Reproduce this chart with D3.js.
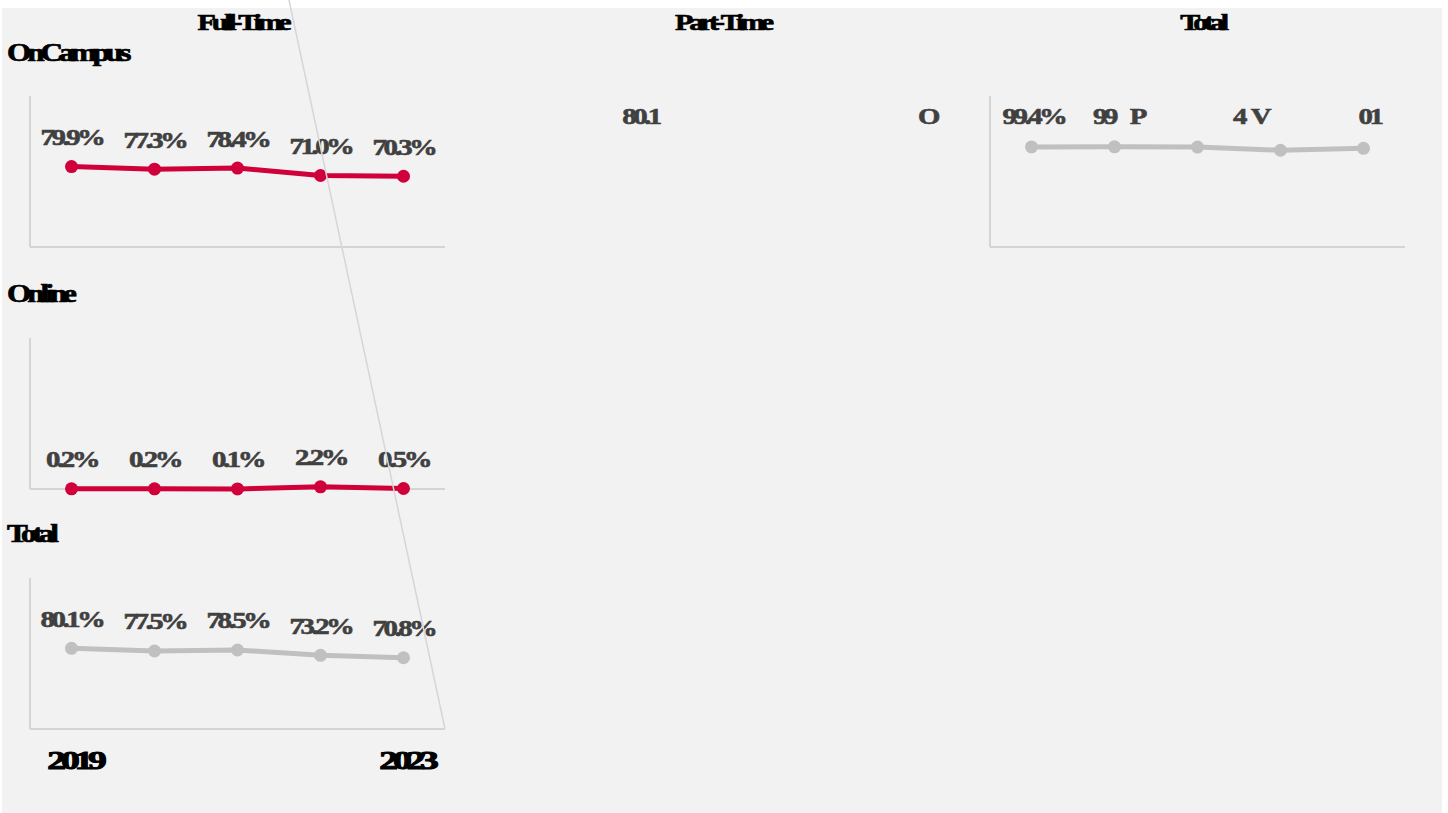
<!DOCTYPE html>
<html><head><meta charset="utf-8">
<script src="https://cdn.jsdelivr.net/npm/d3@7"></script>
<style>
html,body{margin:0;padding:0;background:#fff;}
svg{display:block;}
text{white-space:pre;}
</style></head>
<body>
<svg id="chart" width="1448" height="813"></svg>
<script>
const years = [2019, 2020, 2021, 2022, 2023];
const columnTitles = ["Full-Time", "Part-Time", "Total"];
const rowTitles = ["OnCampus", "Online", "Total"];
const onCampusFullTime = [0.799, 0.773, 0.784, 0.710, 0.703];
const onlineFullTime = [0.002, 0.002, 0.001, 0.022, 0.005];
const totalFullTime = [0.801, 0.775, 0.785, 0.732, 0.708];
const onCampusTotal = [0.994, 0.995, 0.993, 0.961, 0.980];
const onCampusTotalLabels = ["99.4%", "99    P", "", "4  V", "01"];
const onCampusTotalLabelShift = [2, 4, 0, -30, 6];
const partTimeLabels = ["80.1", "O"];
const partTimeLabelIndex = [1, 4];
const partTimeLabelShift = [6, 44];
const yearTicks = [2019, 2023];

const RED = "#d0003a", GREY = "#c0c0c0", AX = "#d4d4d4", LBL = "#404040";
const svg = d3.select("#chart");
svg.append("rect").attr("x", 2).attr("y", 8).attr("width", 1440).attr("height", 805).attr("fill", "#f2f2f2");

const colX = [30, 510, 990], colW = 415;
const rowY = [96, 338, 578], rowH = 151;
const fmt = d3.format(".1%");

function txt(g, x, y, s, opt) {
  const o = Object.assign({size: 24, sx: 1.2, fill: LBL, anchor: "middle", ls: -0.12, sw: 0.6}, opt || {});
  g.append("text")
    .attr("transform", `translate(${x},${y + 2}) scale(${o.sx},1)`)
    .attr("text-anchor", o.anchor)
    .attr("dominant-baseline", "middle")
    .style("font-family", "'Liberation Serif', serif")
    .style("font-weight", "bold")
    .style("font-size", o.size + "px")
    .style("letter-spacing", (o.ls * o.size) + "px")
    .attr("fill", o.fill)
    .attr("stroke", o.fill).attr("stroke-width", o.sw)
    .text(s);
}

function panel(ci, ri, values, color, labels, shifts) {
  const x = d3.scalePoint().domain(years).range([colX[ci], colX[ci] + colW]).padding(0.5);
  const y = d3.scaleLinear().domain([0, 1.5]).range([rowY[ri] + rowH, rowY[ri]]);
  const g = svg.append("g");
  g.append("line").attr("x1", colX[ci]).attr("x2", colX[ci]).attr("y1", rowY[ri]).attr("y2", rowY[ri] + rowH)
    .attr("stroke", AX).attr("stroke-width", 2);
  g.append("line").attr("x1", colX[ci]).attr("x2", colX[ci] + colW).attr("y1", rowY[ri] + rowH).attr("y2", rowY[ri] + rowH)
    .attr("stroke", AX).attr("stroke-width", 2);
  const line = d3.line().x((d, i) => x(years[i])).y(d => y(d));
  g.append("path").datum(values).attr("d", line).attr("fill", "none").attr("stroke", color)
    .attr("stroke-width", 5).attr("stroke-linejoin", "round");
  g.selectAll("circle").data(values).join("circle")
    .attr("cx", (d, i) => x(years[i])).attr("cy", d => y(d)).attr("r", 6.5).attr("fill", color);
  values.forEach((v, i) => {
    const s = labels ? labels[i] : fmt(v);
    const ly = labels ? y(d3.max(values)) - 30 : y(v) - 29;
    if (s) txt(g, x(years[i]) + (shifts ? shifts[i] : 0), ly, s);
  });
  return {x, y};
}

panel(0, 0, onCampusFullTime, RED);
panel(0, 1, onlineFullTime, RED);
const totPanel = panel(0, 2, totalFullTime, GREY);
const topRight = panel(2, 0, onCampusTotal, GREY, onCampusTotalLabels, onCampusTotalLabelShift);

// Part-Time stray labels
const xp = d3.scalePoint().domain(years).range([colX[1], colX[1] + colW]).padding(0.5);
partTimeLabels.forEach((s, k) => {
  txt(svg, xp(years[partTimeLabelIndex[k]]) + partTimeLabelShift[k], topRight.y(d3.max(onCampusTotal)) - 30, s);
});

// column titles
columnTitles.forEach((t, i) => txt(svg, colX[i] + colW / 2 + 5, 22, t, {size: 24, sx: 1.25, fill: "#000", ls: -0.14, sw: 0.7}));
// row titles
const rowTitleY = [53, 294, 534];
rowTitles.forEach((t, i) => txt(svg, 7, rowTitleY[i], t, {size: 25, sx: 1.25, fill: "#000", anchor: "start", ls: -0.13, sw: 0.7}));
// year ticks
yearTicks.forEach(yr => txt(svg, totPanel.x(yr) + 3, 761, String(yr), {size: 26, fill: "#000", sx: 1.45, ls: -0.14, sw: 1}));

// diagonal stray line
svg.append("line").attr("x1", 289).attr("y1", 0).attr("x2", colX[0] + colW).attr("y2", rowY[2] + rowH)
  .attr("stroke", "#d6d6d6").attr("stroke-width", 1.5);
</script>
</body></html>
